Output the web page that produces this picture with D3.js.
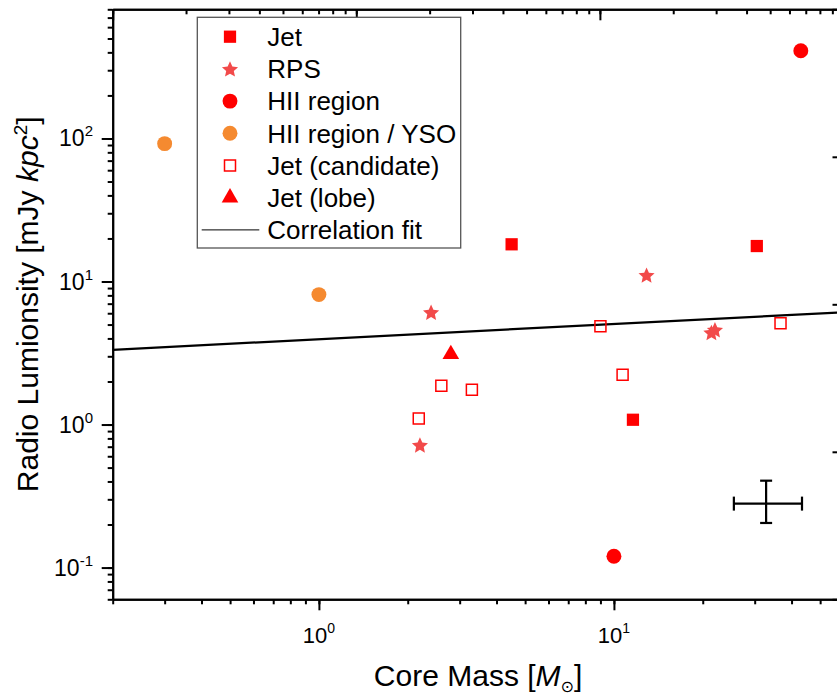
<!DOCTYPE html>
<html>
<head>
<meta charset="utf-8">
<script src="https://cdn.jsdelivr.net/npm/d3@7"></script>
<style>
body { margin: 0; background: #fff; }
svg { display: block; font-family: "Liberation Sans", Arial, sans-serif; }
</style>
</head>
<body>
<div id="chart"></div>
<script>
// ---- data (core mass in Msun, radio luminosity in mJy kpc^2) ----
const jetMass = [4.5, 30.5, 11.6];
const jetLum = [18.2, 17.7, 1.08];

const rpsMass = [2.4, 12.9, 2.2, 21.4, 22.0];
const rpsLum = [6.1, 11.1, 0.72, 4.4, 4.6];

const hiiMass = [43, 10];
const hiiLum = [410, 0.12];

const ysoMass = [0.3, 1.0];
const ysoLum = [92, 8.1];

const candMass = [2.18, 2.6, 3.3, 9.0, 10.7, 36.7];
const candLum = [1.1, 1.87, 1.75, 4.86, 2.23, 5.1];

const lobeMass = [2.8];
const lobeLum = [3.1];

// correlation fit evaluated at the axis ends
const fitMass = [0.2, 60];
const fitLum = [3.33, 6.1];

// typical error bar
const errMass = [32.8, 25.5, 43.4]; // centre, low, high
const errLum = [0.28, 0.205, 0.405];

const legendLabels = ["Jet", "RPS", "HII region", "HII region / YSO", "Jet (candidate)", "Jet (lobe)", "Correlation fit"];

// ---- canvas ----
const svg_width = 837, svg_height = 697;
const pLeft = 112.7, pRight = 843.5, pTop = 9.3, pBottom = 599.3;

const svg = d3.select('#chart').append('svg')
    .attr('width', svg_width).attr('height', svg_height);

const x = d3.scaleLog().domain([0.2, 60]).range([pLeft, pRight]);
const xTop = d3.scaleLog().domain([0.1, 100]).range([pLeft, pRight]);
const y = d3.scaleLog().domain([0.06, 800]).range([pBottom, pTop]);
const yRight = d3.scaleLog().domain([0.1, 1000]).range([pBottom, pTop]);

const isDecade = v => Math.abs(Math.log10(v) - Math.round(Math.log10(v))) < 1e-9;

// draw one axis as minor + major pass
function drawAxis(axisFn, scale, transform) {
    const all = scale.ticks();
    const majors = all.filter(isDecade);
    const g = svg.append('g').attr('transform', transform);
    g.append('g').call(axisFn(scale).tickValues(all).tickSize(5).tickSizeOuter(0).tickFormat(''));
    g.append('g').call(axisFn(scale).tickValues(majors).tickSize(11).tickSizeOuter(0).tickFormat(''));
    g.selectAll('path, line').attr('stroke', '#000').attr('stroke-width', 2);
    return majors;
}

const xMaj = drawAxis(d3.axisBottom, x, `translate(0,${pBottom})`);
drawAxis(d3.axisBottom, xTop, `translate(0,${pTop})`);   // ticks point inward
const yMaj = drawAxis(d3.axisLeft, y, `translate(${pLeft},0)`);
drawAxis(d3.axisLeft, yRight, `translate(${pRight},0)`); // ticks point inward

// tick labels with superscript exponents
const xl = svg.append('g').selectAll('text').data(xMaj).enter().append('text')
    .attr('x', d => x(d)).attr('y', 643).attr('text-anchor', 'middle')
    .attr('font-size', 22);
xl.append('tspan').text('10');
xl.append('tspan').attr('dy', -10).attr('font-size', 14).text(d => Math.round(Math.log10(d)));

const yl = svg.append('g').selectAll('text').data(yMaj).enter().append('text')
    .attr('x', 93).attr('y', d => y(d) + 8).attr('text-anchor', 'end')
    .attr('font-size', 23);
yl.append('tspan').text('10');
yl.append('tspan').attr('dy', -10).attr('font-size', 15).text(d => Math.round(Math.log10(d)));

// axis titles
const xt = svg.append('text').attr('x', (pLeft + pRight) / 2).attr('y', 686)
    .attr('text-anchor', 'middle').attr('font-size', 30);
xt.append('tspan').text('Core Mass [');
xt.append('tspan').attr('font-style', 'italic').text('M');
xt.append('tspan').attr('dy', 6).attr('font-size', 16).attr('font-family', 'DejaVu Sans').text('\u2299');
xt.append('tspan').attr('dy', -6).text(']');

const yt = svg.append('text')
    .attr('transform', `translate(38,${(pTop + pBottom) / 2}) rotate(-90)`)
    .attr('text-anchor', 'middle').attr('font-size', 30);
yt.append('tspan').text('Radio Lumionsity [mJy ');
yt.append('tspan').attr('font-style', 'italic').text('kpc');
yt.append('tspan').attr('dy', -11).attr('font-size', 19).text('2');
yt.append('tspan').attr('dy', 11).text(']');

// ---- marks ----
const plot = svg.append('g');
const zip = (a, b) => a.map((v, i) => ({ m: v, l: b[i] }));

// fatter five point star, size = outer radius squared
const fatStar = {
    draw(ctx, size) {
        const r = Math.sqrt(size), ri = r * 0.47;
        for (let k = 0; k < 10; k++) {
            const a = k * Math.PI / 5 - Math.PI / 2;
            const rr = k % 2 ? ri : r;
            if (k === 0) ctx.moveTo(rr * Math.cos(a), rr * Math.sin(a) + r * 0.1);
            else ctx.lineTo(rr * Math.cos(a), rr * Math.sin(a) + r * 0.1);
        }
        ctx.closePath();
    }
};

const red = '#ff0000', starRed = '#f24a4a', orange = '#f58a30';

const series = [
    { data: zip(jetMass, jetLum), type: d3.symbolSquare, size: 150, fill: red },
    { data: zip(rpsMass, rpsLum), type: fatStar, size: 72, fill: starRed },
    { data: zip(hiiMass, hiiLum), type: d3.symbolCircle, size: 175, fill: red },
    { data: zip(ysoMass, ysoLum), type: d3.symbolCircle, size: 175, fill: orange },
    { data: zip(candMass, candLum), type: d3.symbolSquare, size: 121, fill: 'none', stroke: red },
    { data: zip(lobeMass, lobeLum), type: d3.symbolTriangle, size: 120, fill: red }
];

// fit line
plot.append('path')
    .datum(zip(fitMass, fitLum))
    .attr('d', d3.line().x(d => x(d.m)).y(d => y(d.l)))
    .attr('stroke', '#000').attr('stroke-width', 2.2).attr('fill', 'none');

series.forEach(s => {
    plot.selectAll(null).data(s.data).enter().append('path')
        .attr('transform', d => `translate(${x(d.m)},${y(d.l)})`)
        .attr('d', d3.symbol().type(s.type).size(s.size))
        .attr('fill', s.fill)
        .attr('stroke', s.stroke || 'none')
        .attr('stroke-width', 1.5);
});

// representative error bar
const eb = plot.append('g').attr('stroke', '#000').attr('stroke-width', 2.2);
const cx = x(errMass[0]), cy = y(errLum[0]);
eb.append('line').attr('x1', x(errMass[1])).attr('x2', x(errMass[2])).attr('y1', cy).attr('y2', cy);
eb.append('line').attr('x1', cx).attr('x2', cx).attr('y1', y(errLum[1])).attr('y2', y(errLum[2]));
[errMass[1], errMass[2]].forEach(v => eb.append('line').attr('x1', x(v)).attr('x2', x(v)).attr('y1', cy - 7).attr('y2', cy + 7));
[errLum[1], errLum[2]].forEach(v => eb.append('line').attr('x1', cx - 6).attr('x2', cx + 6).attr('y1', y(v)).attr('y2', y(v)));

// ---- legend ----
const legend = svg.append('g').attr('transform', 'translate(197.3,17.3)');
legend.append('rect').attr('width', 263.4).attr('height', 230.7)
    .attr('fill', '#fff').attr('stroke', '#555').attr('stroke-width', 1.3);
const rowY = i => 19.4 + i * 32.2;
series.forEach((s, i) => {
    legend.append('path')
        .attr('transform', `translate(32.7,${rowY(i)})`)
        .attr('d', d3.symbol().type(s.type).size(s.size))
        .attr('fill', s.fill).attr('stroke', s.stroke || 'none').attr('stroke-width', 1.5);
});
legend.append('line').attr('x1', 4.4).attr('x2', 62).attr('y1', rowY(6)).attr('y2', rowY(6))
    .attr('stroke', '#000').attr('stroke-width', 1);
legend.selectAll('text.lab').data(legendLabels).enter().append('text')
    .attr('class', 'lab')
    .attr('x', 70).attr('y', (d, i) => rowY(i) + 9.3)
    .attr('font-size', 26).text(d => d);
</script>
</body>
</html>
